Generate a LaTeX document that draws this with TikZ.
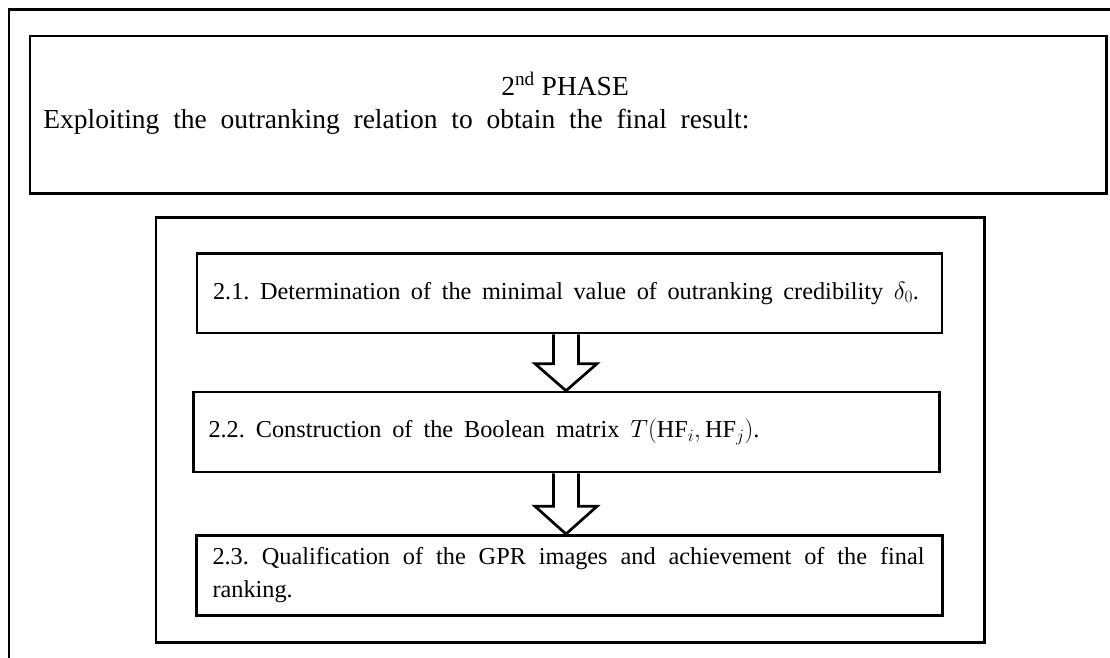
\documentclass[tikz,border=0pt]{standalone}
\usepackage{fontspec}
\setmainfont{Liberation Serif}
\usetikzlibrary{calc}
\begin{document}
\begin{tikzpicture}[x=1pt,y=-1pt,line width=2.7pt,
  frame/.style={draw, rectangle, anchor=north west, inner sep=0pt},
  stepbox/.style={draw, rectangle, anchor=north west, inner ysep=0pt,
    font=\fontsize{24.3}{33}\selectfont},
  titletext/.style={anchor=base west, inner sep=0pt, font=\fontsize{27.5}{33}\selectfont},
  blockarrow/.style={draw, fill=white, line join=miter}]
\useasboundingbox (0,0) rectangle (1110,657);
\clip (0,0) rectangle (1110,657);
% outer frame (cut off on the right and bottom)
\coordinate (fbl) at (9,720);
\coordinate (ftl) at (9,9.5);
\coordinate (ftr) at (1140,9.5);
\draw (fbl) -- (ftl) -- (ftr);
% phase box
\node[frame, minimum width=1076.6pt, minimum height=157.3pt] (phase) at (28.7,34.7) {};
\node[titletext] (ptitle) at (500,95) {2\textsuperscript{nd} PHASE};
\node[titletext] (psub) at (42,128) {\makebox[706pt][s]{Exploiting the outranking relation to obtain the final result:}};
% inner frame
\node[frame, minimum width=828.3pt, minimum height=425pt] (inner) at (154.7,216.3) {};
% steps
\node[stepbox, minimum width=745pt, minimum height=79.7pt, inner xsep=16pt] (b1) at (195.7,252)
  {\makebox[713pt][l]{\makebox[706pt][s]{2.1.\ Determination of the minimal value of outranking credibility $\delta_0$.}}};
\node[stepbox, minimum width=746.3pt, minimum height=80pt, inner xsep=14.7pt] (b2) at (192,390.7)
  {\makebox[716pt][l]{\makebox[551pt][s]{2.2.\ Construction of the Boolean matrix $T\bigl(\mathrm{HF}_i,\mathrm{HF}_j\bigr)$.}}};
\node[stepbox, minimum width=745.7pt, minimum height=80.3pt, inner xsep=15.7pt] (b3) at (195.3,534)
  {\parbox{714pt}{\makebox[712pt][s]{2.3.\ Qualification of the GPR images and achievement of the final}\\ranking.}};
% block arrows
\coordinate (ax) at (566,0);
\coordinate (a1s) at (b1.south -| ax);
\coordinate (a1e) at (b2.north -| ax);
\coordinate (a2s) at (b2.south -| ax);
\coordinate (a2e) at (b3.north -| ax);
\draw[blockarrow] ($(a1s)+(-12.5,0)$) -- ($(a1e)+(-12.5,-27)$) -- ($(a1e)+(-31,-27)$) -- (a1e)
  -- ($(a1e)+(31,-27)$) -- ($(a1e)+(12.5,-27)$) -- ($(a1s)+(12.5,0)$);
\draw[blockarrow] ($(a2s)+(-12.5,0)$) -- ($(a2e)+(-12.5,-27.7)$) -- ($(a2e)+(-31,-27.7)$) -- (a2e)
  -- ($(a2e)+(31,-27.7)$) -- ($(a2e)+(12.5,-27.7)$) -- ($(a2s)+(12.5,0)$);
\end{tikzpicture}
\end{document}
